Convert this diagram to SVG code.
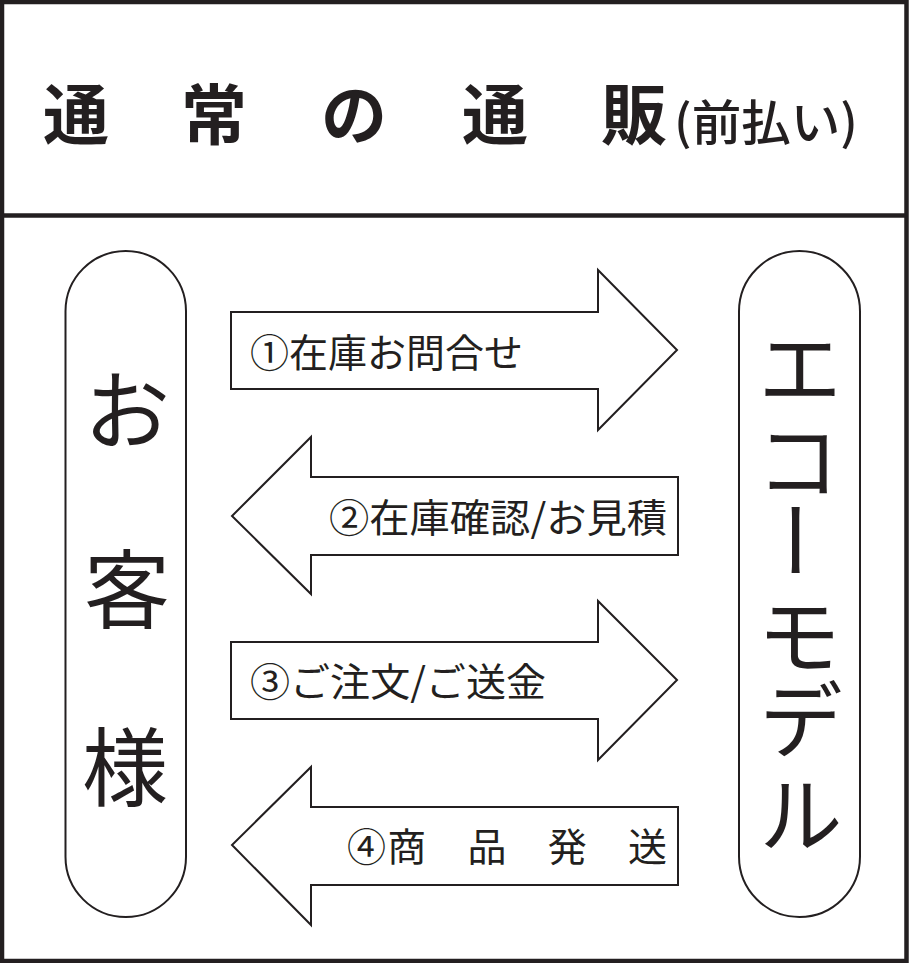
<svg xmlns="http://www.w3.org/2000/svg" width="909" height="963" viewBox="0 0 909 963">
<style>
.t{font-family:"Noto Sans CJK JP","Noto Sans CJK SC",sans-serif;fill:#231f20}
.title{font-size:66px;font-weight:700}
.big{font-size:86px;font-weight:400}
.big2{font-size:83px;font-weight:400}
.lbl{font-size:39px;font-weight:400}
.arrow{fill:#fff;stroke:#231f20;stroke-width:2;stroke-linejoin:miter}
.cap{fill:#fff;stroke:#231f20;stroke-width:2}
</style>
<rect x="0" y="0" width="909" height="963" fill="#fff"/>
<g id="frame">
<rect x="2" y="2" width="904.5" height="959" fill="none" stroke="#231f20" stroke-width="4.5"/>
<line x1="2" y1="215.5" x2="906.5" y2="215.5" stroke="#231f20" stroke-width="4.5"/>
</g>
<g id="title">
<text class="t title" x="76" y="110" text-anchor="middle" dominant-baseline="central">通</text>
<text class="t title" x="214" y="110" text-anchor="middle" dominant-baseline="central">常</text>
<text class="t title" x="354" y="110" text-anchor="middle" dominant-baseline="central">の</text>
<text class="t title" x="495" y="110" text-anchor="middle" dominant-baseline="central">通</text>
<text class="t title" x="634" y="110" text-anchor="middle" dominant-baseline="central">販</text>
<text class="t" x="674" y="119" font-size="48" font-weight="500" dominant-baseline="central" textLength="184" lengthAdjust="spacingAndGlyphs">(前払い)</text>
</g>
<g id="customer">
<rect class="cap" x="65.5" y="251" width="120.5" height="666" rx="60.25" ry="60.25"/>
<text class="t big" x="127" y="405" text-anchor="middle" dominant-baseline="central">お</text>
<text class="t big" x="127" y="584" text-anchor="middle" dominant-baseline="central">客</text>
<text class="t big" x="125" y="762" text-anchor="middle" dominant-baseline="central">様</text>
</g>
<g id="ecomodel">
<rect class="cap" x="739" y="251" width="121" height="666" rx="60.5" ry="60.5"/>
<text class="t big2" x="800" y="363" text-anchor="middle" dominant-baseline="central">エ</text>
<text class="t big2" x="798" y="456" text-anchor="middle" dominant-baseline="central">コ</text>
<text class="t big2" x="0" y="0" text-anchor="middle" dominant-baseline="central" transform="translate(800 540) rotate(90)">ー</text>
<text class="t big2" x="799" y="631" text-anchor="middle" dominant-baseline="central">モ</text>
<text class="t big2" x="801" y="715" text-anchor="middle" dominant-baseline="central">デ</text>
<text class="t big2" x="801" y="810" text-anchor="middle" dominant-baseline="central">ル</text>
</g>
<g id="connectors">
<g id="arrow1">
<path class="arrow" d="M231,312 H598 V270 L677,350 L598,430 V389 H231 Z"/>
<text class="t lbl" x="250" y="350" dominant-baseline="central" textLength="273" lengthAdjust="spacingAndGlyphs">①在庫お問合せ</text>
</g>
<g id="arrow2">
<path class="arrow" d="M678,477 H311 V437 L232,516 L311,594 V555 H678 Z"/>
<text class="t lbl" x="667" y="515" text-anchor="end" dominant-baseline="central" textLength="338" lengthAdjust="spacingAndGlyphs">②在庫確認/お見積</text>
</g>
<g id="arrow3">
<path class="arrow" d="M231,642 H598 V601 L677,680 L598,760 V719 H231 Z"/>
<text class="t lbl" x="250" y="679" dominant-baseline="central" textLength="296" lengthAdjust="spacingAndGlyphs">③ご注文/ご送金</text>
</g>
<g id="arrow4">
<path class="arrow" d="M678,807 H311 V767 L232,845 L311,925 V885 H678 Z"/>
<text class="t lbl" x="347" y="844" dominant-baseline="central" font-weight="500" textLength="320" lengthAdjust="spacing">④商　品　発　送</text>
</g>
</g>
</svg>
